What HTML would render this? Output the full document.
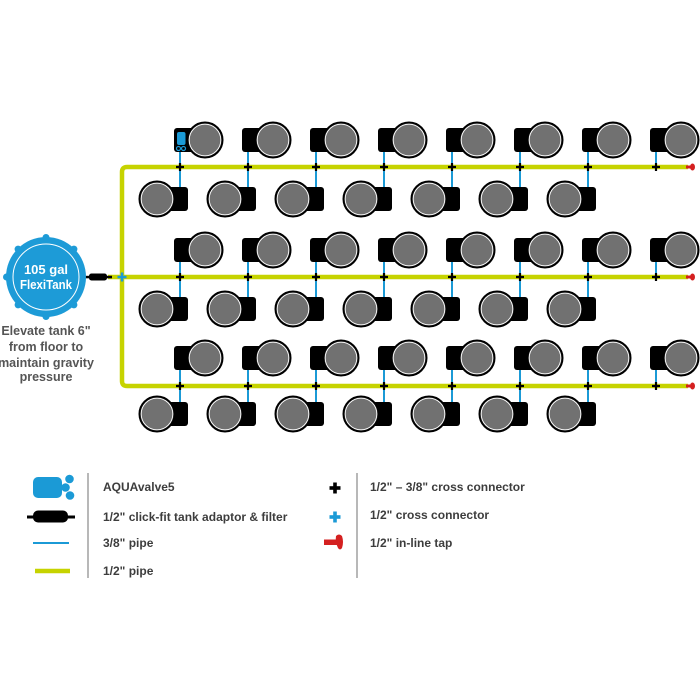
<!DOCTYPE html>
<html>
<head>
<meta charset="utf-8">
<style>
html,body{margin:0;padding:0;background:#fff;}
svg{display:block;}
text{font-family:"Liberation Sans",sans-serif;font-weight:bold;}
</style>
</head>
<body>
<svg width="700" height="700" viewBox="0 0 700 700" xmlns="http://www.w3.org/2000/svg">
<rect width="700" height="700" fill="#fff"/>
<defs>
  <g id="potT">
    <rect x="-6" y="-12" width="20" height="24" rx="3" fill="#000"/>
    <circle cx="25" cy="0" r="17.5" fill="#717171" stroke="#000" stroke-width="2"/>
    <circle cx="25" cy="0" r="15.8" fill="none" stroke="#fff" stroke-width="0.9"/>
  </g>
  <g id="potB">
    <rect x="-14" y="-12" width="22" height="24" rx="3" fill="#000"/>
    <circle cx="-23" cy="0" r="17.5" fill="#717171" stroke="#000" stroke-width="2"/>
    <circle cx="-23" cy="0" r="15.8" fill="none" stroke="#fff" stroke-width="0.9"/>
  </g>
  <g id="xb">
    <rect x="-4" y="-1.1" width="8" height="2.2" fill="#000"/>
    <rect x="-1.1" y="-4" width="2.2" height="8" fill="#000"/>
  </g>
  <g id="tap">
    <rect x="-3" y="-1.5" width="6" height="3" fill="#d42020"/>
    <ellipse cx="3.5" cy="0" rx="2.5" ry="3.5" fill="#d42020"/>
  </g>
</defs>

<!-- yellow 1/2" pipes -->
<path d="M 688 167 H 127 Q 122 167 122 172 V 381 Q 122 386 127 386 H 688" fill="none" stroke="#c6d300" stroke-width="4.5"/>
<path d="M 108 277 H 688" fill="none" stroke="#c6d300" stroke-width="4.5"/>

<!-- blue 3/8" pipes -->
<g stroke="#1b9ad6" stroke-width="2">
  <!-- row 1 -->
  <line x1="180" y1="152" x2="180" y2="187"/>
  <line x1="248" y1="152" x2="248" y2="187"/>
  <line x1="316" y1="152" x2="316" y2="187"/>
  <line x1="384" y1="152" x2="384" y2="187"/>
  <line x1="452" y1="152" x2="452" y2="187"/>
  <line x1="520" y1="152" x2="520" y2="187"/>
  <line x1="588" y1="152" x2="588" y2="187"/>
  <line x1="656" y1="152" x2="656" y2="167"/>
  <!-- row 2 -->
  <line x1="180" y1="262" x2="180" y2="297"/>
  <line x1="248" y1="262" x2="248" y2="297"/>
  <line x1="316" y1="262" x2="316" y2="297"/>
  <line x1="384" y1="262" x2="384" y2="297"/>
  <line x1="452" y1="262" x2="452" y2="297"/>
  <line x1="520" y1="262" x2="520" y2="297"/>
  <line x1="588" y1="262" x2="588" y2="297"/>
  <line x1="656" y1="262" x2="656" y2="277"/>
  <!-- row 3 -->
  <line x1="180" y1="370" x2="180" y2="402"/>
  <line x1="248" y1="370" x2="248" y2="402"/>
  <line x1="316" y1="370" x2="316" y2="402"/>
  <line x1="384" y1="370" x2="384" y2="402"/>
  <line x1="452" y1="370" x2="452" y2="402"/>
  <line x1="520" y1="370" x2="520" y2="402"/>
  <line x1="588" y1="370" x2="588" y2="402"/>
  <line x1="656" y1="370" x2="656" y2="386"/>
</g>

<!-- pots row 1 -->
<use href="#potT" x="180" y="140"/><use href="#potT" x="248" y="140"/><use href="#potT" x="316" y="140"/><use href="#potT" x="384" y="140"/>
<use href="#potT" x="452" y="140"/><use href="#potT" x="520" y="140"/><use href="#potT" x="588" y="140"/><use href="#potT" x="656" y="140"/>
<use href="#potB" x="180" y="199"/><use href="#potB" x="248" y="199"/><use href="#potB" x="316" y="199"/><use href="#potB" x="384" y="199"/>
<use href="#potB" x="452" y="199"/><use href="#potB" x="520" y="199"/><use href="#potB" x="588" y="199"/>
<!-- pots row 2 -->
<use href="#potT" x="180" y="250"/><use href="#potT" x="248" y="250"/><use href="#potT" x="316" y="250"/><use href="#potT" x="384" y="250"/>
<use href="#potT" x="452" y="250"/><use href="#potT" x="520" y="250"/><use href="#potT" x="588" y="250"/><use href="#potT" x="656" y="250"/>
<use href="#potB" x="180" y="309"/><use href="#potB" x="248" y="309"/><use href="#potB" x="316" y="309"/><use href="#potB" x="384" y="309"/>
<use href="#potB" x="452" y="309"/><use href="#potB" x="520" y="309"/><use href="#potB" x="588" y="309"/>
<!-- pots row 3 -->
<use href="#potT" x="180" y="358"/><use href="#potT" x="248" y="358"/><use href="#potT" x="316" y="358"/><use href="#potT" x="384" y="358"/>
<use href="#potT" x="452" y="358"/><use href="#potT" x="520" y="358"/><use href="#potT" x="588" y="358"/><use href="#potT" x="656" y="358"/>
<use href="#potB" x="180" y="414"/><use href="#potB" x="248" y="414"/><use href="#potB" x="316" y="414"/><use href="#potB" x="384" y="414"/>
<use href="#potB" x="452" y="414"/><use href="#potB" x="520" y="414"/><use href="#potB" x="588" y="414"/>

<!-- AQUAvalve in first pot -->
<rect x="177" y="132" width="8.5" height="13" rx="2" fill="#1b9ad6"/>
<circle cx="178.5" cy="148.5" r="2" fill="none" stroke="#1b9ad6" stroke-width="1.2"/>
<circle cx="183.5" cy="148.5" r="2" fill="none" stroke="#1b9ad6" stroke-width="1.2"/>

<!-- cross connectors -->
<g>
  <use href="#xb" x="180" y="167"/><use href="#xb" x="248" y="167"/><use href="#xb" x="316" y="167"/><use href="#xb" x="384" y="167"/>
  <use href="#xb" x="452" y="167"/><use href="#xb" x="520" y="167"/><use href="#xb" x="588" y="167"/><use href="#xb" x="656" y="167"/>
  <use href="#xb" x="180" y="277"/><use href="#xb" x="248" y="277"/><use href="#xb" x="316" y="277"/><use href="#xb" x="384" y="277"/>
  <use href="#xb" x="452" y="277"/><use href="#xb" x="520" y="277"/><use href="#xb" x="588" y="277"/><use href="#xb" x="656" y="277"/>
  <use href="#xb" x="180" y="386"/><use href="#xb" x="248" y="386"/><use href="#xb" x="316" y="386"/><use href="#xb" x="384" y="386"/>
  <use href="#xb" x="452" y="386"/><use href="#xb" x="520" y="386"/><use href="#xb" x="588" y="386"/><use href="#xb" x="656" y="386"/>
</g>
<!-- blue cross -->
<rect x="117.5" y="275.8" width="9" height="2.5" fill="#1b9ad6"/>
<rect x="120.8" y="272.5" width="2.5" height="9" fill="#1b9ad6"/>

<!-- taps -->
<use href="#tap" x="689" y="167"/>
<use href="#tap" x="689" y="277"/>
<use href="#tap" x="689" y="386"/>

<!-- adaptor at tank -->
<rect x="84" y="275.8" width="28" height="2.5" fill="#000"/>
<rect x="89" y="273.5" width="18" height="7" rx="2.5" fill="#000"/>

<!-- tank -->
<g fill="#1d9bd7">
  <circle cx="46" cy="277" r="40"/>
  <circle cx="46" cy="237.5" r="3.5"/>
  <circle cx="46" cy="316.5" r="3.5"/>
  <circle cx="6.5" cy="277" r="3.5"/>
  <circle cx="18.1" cy="249.1" r="3.5"/>
  <circle cx="73.9" cy="249.1" r="3.5"/>
  <circle cx="18.1" cy="304.9" r="3.5"/>
  <circle cx="73.9" cy="304.9" r="3.5"/>
</g>
<circle cx="46" cy="277" r="33" fill="none" stroke="#fff" stroke-width="1"/>
<text x="46" y="274" font-size="13" fill="#fff" text-anchor="middle">105 gal</text>
<text x="46" y="289" font-size="13" fill="#fff" text-anchor="middle" textLength="52" lengthAdjust="spacingAndGlyphs">FlexiTank</text>

<g fill="#555" font-size="12.5" text-anchor="middle">
  <text x="46" y="335">Elevate tank 6"</text>
  <text x="46" y="351">from floor to</text>
  <text x="46" y="367">maintain gravity</text>
  <text x="46" y="381">pressure</text>
</g>

<!-- legend -->
<line x1="88" y1="473" x2="88" y2="578" stroke="#888" stroke-width="1.2"/>
<line x1="357" y1="473" x2="357" y2="578" stroke="#888" stroke-width="1.2"/>

<rect x="33" y="477" width="29" height="21" rx="5" fill="#1b9ad6"/>
<circle cx="69.5" cy="479" r="4.3" fill="#1b9ad6"/>
<circle cx="65.5" cy="487.5" r="4.3" fill="#1b9ad6"/>
<circle cx="70" cy="495.5" r="4.3" fill="#1b9ad6"/>

<rect x="27" y="515.5" width="48" height="3" fill="#000"/>
<rect x="33" y="510.5" width="35" height="12" rx="5" fill="#000"/>

<line x1="33" y1="543" x2="69" y2="543" stroke="#1b9ad6" stroke-width="2"/>
<line x1="35" y1="571" x2="70" y2="571" stroke="#c6d300" stroke-width="4.5"/>

<g fill="#3d3d3d" font-size="12">
  <text x="103" y="491">AQUAvalve5</text>
  <text x="103" y="521">1/2" click-fit tank adaptor &amp; filter</text>
  <text x="103" y="547">3/8" pipe</text>
  <text x="103" y="575">1/2" pipe</text>
  <text x="370" y="491">1/2" –  3/8" cross connector</text>
  <text x="370" y="519">1/2" cross connector</text>
  <text x="370" y="547">1/2" in-line tap</text>
</g>

<rect x="329.5" y="486.2" width="11" height="3.6" fill="#000"/>
<rect x="333.2" y="482.5" width="3.6" height="11" fill="#000"/>
<rect x="329.5" y="515.2" width="11" height="3.6" fill="#1b9ad6"/>
<rect x="333.2" y="511.5" width="3.6" height="11" fill="#1b9ad6"/>

<rect x="324" y="539.5" width="14" height="5.5" fill="#d42020"/>
<path d="M 336 536 Q 339 533 342 536 Q 344 542 342 548 Q 340 551 338 548 Q 335 542 336 536 Z" fill="#d42020"/>
</svg>
</body>
</html>
